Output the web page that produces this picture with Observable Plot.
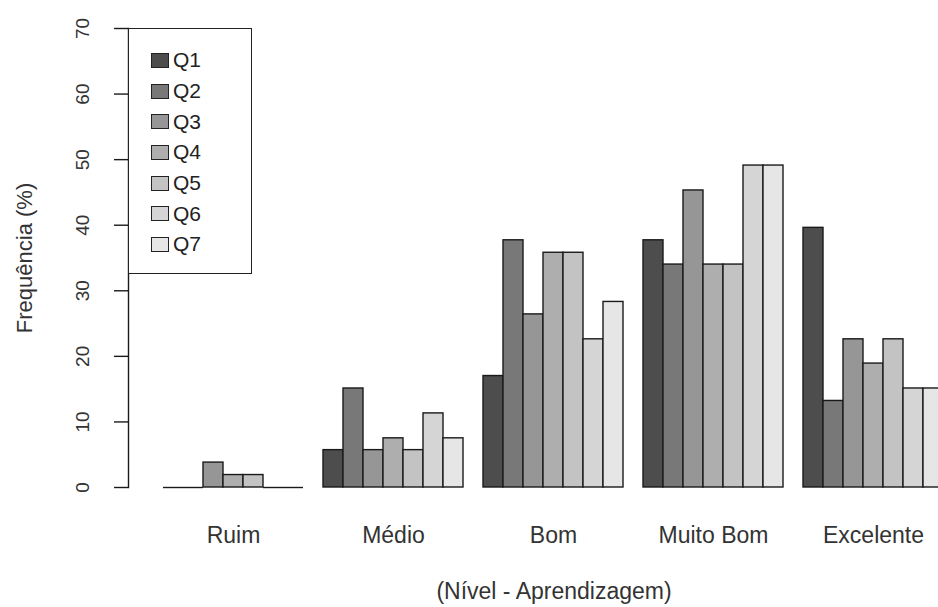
<!DOCTYPE html>
<html>
<head>
<meta charset="utf-8">
<script src="https://cdn.jsdelivr.net/npm/d3@7"></script>
<script src="https://cdn.jsdelivr.net/npm/@observablehq/plot@0.6"></script>
<style>
  html, body { margin: 0; padding: 0; background: #fff; overflow: hidden; }
  #wrap { position: relative; width: 938px; height: 607px; overflow: hidden; font-family: "Liberation Sans", Arial, sans-serif; }
  #wrap svg { max-width: none !important; display: block; }
  #legend { position: absolute; left: 128px; top: 28px; width: 124px; height: 246px; box-sizing: border-box;
            border: 1.5px solid #222; background: #fff; padding-top: 16px; }
  .item { display: flex; align-items: center; height: 30.7px; padding-left: 22px; font-size: 21px; color: #222; }
  .sw { width: 16px; height: 13px; border: 1.5px solid #222; margin-right: 4px; }
</style>
</head>
<body>
<div id="wrap"></div>
<script>
const categories = ["Ruim", "Médio", "Bom", "Muito Bom", "Excelente"];
const series = ["Q1", "Q2", "Q3", "Q4", "Q5", "Q6", "Q7"];
const Q1 = [0, 5.7, 17.0, 37.7, 39.6];
const Q2 = [0, 15.1, 37.7, 34.0, 13.2];
const Q3 = [3.8, 5.7, 26.4, 45.3, 22.6];
const Q4 = [1.9, 7.5, 35.8, 34.0, 18.9];
const Q5 = [1.9, 5.7, 35.8, 34.0, 22.6];
const Q6 = [0, 11.3, 22.6, 49.1, 15.1];
const Q7 = [0, 7.5, 28.3, 49.1, 15.1];
const yTicks = [0, 10, 20, 30, 40, 50, 60, 70];
const colors = ["#4D4D4D", "#787878", "#969696", "#AEAEAE", "#C3C3C3", "#D5D5D5", "#E6E6E6"];
const yTitle = "Frequência (%)";
const xTitle = "(Nível - Aprendizagem)";

const valuesBySeries = {Q1, Q2, Q3, Q4, Q5, Q6, Q7};
const data = [];
categories.forEach((c, ci) => series.forEach(s => data.push({cat: c, q: s, key: c + "|" + s, value: valuesBySeries[s][ci]})));

// slots: one gap bar-width before each group of 7 bars (R barplot beside=TRUE)
const xDomain = [];
categories.forEach(c => { xDomain.push(c + "|gap"); series.forEach(s => xDomain.push(c + "|" + s)); });

const W = 980, H = 607, mL = 128, mR = 1, mT = 28, mB = 120;
const plotW = W - mL - mR;
const nSlots = xDomain.length;            // 40
const ext = 0.04 * (nSlots - 1);          // R's 4% axis extension
const unit = plotW / (nSlots - 1 + 2 * ext);
const xRange = [mL + (ext - 1) * unit, W - mR - ext * unit];

const chart = Plot.plot({
  width: W, height: H,
  marginLeft: mL, marginRight: mR, marginTop: mT, marginBottom: mB,
  style: "max-width:none;font-family:'Liberation Sans',Arial,sans-serif;background:#fff;",
  x: {type: "band", domain: xDomain, range: xRange, padding: 0, axis: null},
  y: {domain: [0, 70], axis: null},
  color: {domain: series, range: colors},
  marks: [
    Plot.barY(data, {x: "key", y: "value", fill: "q", stroke: "#1a1a1a", strokeWidth: 1.4}),
    Plot.tickY(data.filter(d => d.value === 0), {x: "key", y: "value", stroke: "#1a1a1a", strokeWidth: 1.4}),
    Plot.frame({anchor: "left", stroke: "#1a1a1a", strokeWidth: 1.4}),
    Plot.axisY({ticks: yTicks, tickSize: 14, tickFormat: () => "", label: null, stroke: "#1a1a1a", strokeWidth: 1.4}),
    Plot.text(yTicks, {y: d => d, text: d => String(d), frameAnchor: "left", textAnchor: "middle", lineAnchor: "middle", dx: -46, rotate: -90, fontSize: 19, fill: "#333"}),
    Plot.text([yTitle], {text: d => d, frameAnchor: "left", textAnchor: "middle", lineAnchor: "middle", dx: -104, rotate: -90, fontSize: 22, fill: "#333"}),
    Plot.text(categories, {x: c => c + "|Q4", text: d => d, frameAnchor: "bottom", lineAnchor: "bottom", dy: 55, fontSize: 23, fill: "#333"}),
    Plot.text([xTitle], {text: d => d, frameAnchor: "bottom", lineAnchor: "bottom", dy: 111, fontSize: 23, fill: "#333"})
  ]
});

const wrap = document.getElementById("wrap");
wrap.appendChild(chart);

const legend = document.createElement("div");
legend.id = "legend";
series.forEach((s, i) => {
  const row = document.createElement("div");
  row.className = "item";
  const sw = document.createElement("span");
  sw.className = "sw";
  sw.style.background = colors[i];
  row.appendChild(sw);
  row.appendChild(document.createTextNode(s));
  legend.appendChild(row);
});
wrap.appendChild(legend);
</script>
</body>
</html>
